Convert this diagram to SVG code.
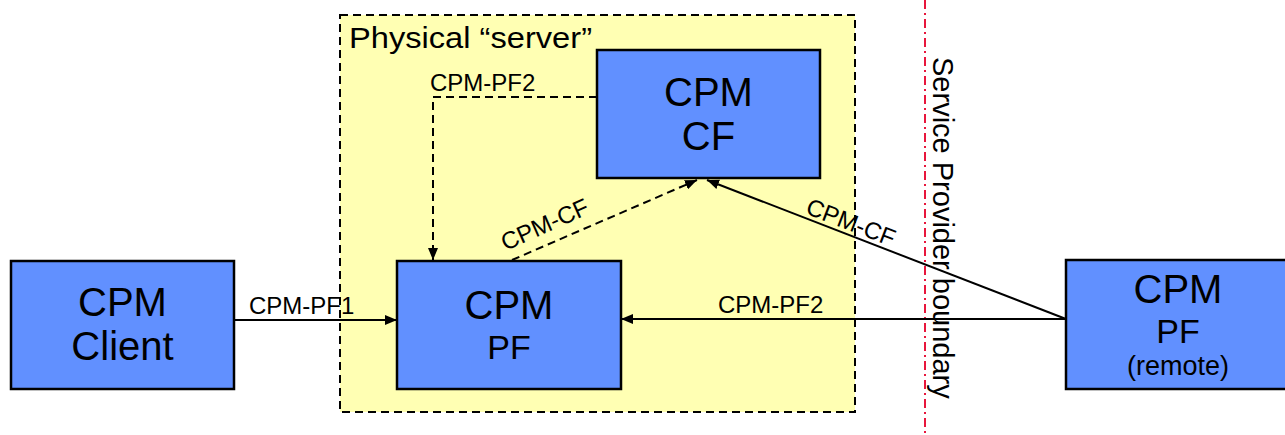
<svg xmlns="http://www.w3.org/2000/svg" width="1285" height="435" viewBox="0 0 1285 435">
<style>
text{font-family:"Liberation Sans",Arial,sans-serif;fill:#000}
.node{fill:#6190FF;stroke:#000;stroke-width:2.5}
.big{font-size:40px;text-anchor:middle}
.mid{font-size:34px;text-anchor:middle}
.lbl{font-size:24px}
.conn{fill:none;stroke:#000;stroke-width:2}
.dash{stroke-dasharray:8 5}
</style>
<defs>
<marker id="arr" viewBox="0 0 12 10" refX="12" refY="5" markerWidth="12" markerHeight="10" markerUnits="userSpaceOnUse" orient="auto">
<path d="M0,0 L12,5 L0,10 z" fill="#000" stroke="none"/>
</marker>
</defs>
<rect width="1285" height="435" fill="#fff"/>
<g id="server">
<rect x="340" y="15" width="515" height="397" fill="#FFFFB3" stroke="#000" stroke-width="2" stroke-dasharray="8 5"/>
<text x="349" y="48" style="font-size:30px" textLength="243" lengthAdjust="spacingAndGlyphs">Physical “server”</text>
</g>
<g id="boundary">
<line x1="925" y1="0" x2="925" y2="435" stroke="#E8163C" stroke-width="2" stroke-dasharray="9 4 2 4"/>
<text transform="translate(933,57) rotate(90)" style="font-size:29px">Service Provider boundary</text>
</g>
<g id="client">
<rect class="node" x="11" y="261" width="223" height="128"/>
<text class="big" x="122.5" y="316">CPM</text>
<text class="big" x="122.5" y="360">Client</text>
</g>
<g id="pf">
<rect class="node" x="397" y="261" width="224" height="128"/>
<text class="big" x="509" y="319">CPM</text>
<text class="mid" x="509" y="359">PF</text>
</g>
<g id="cf">
<rect class="node" x="597" y="50" width="223" height="128"/>
<text class="big" x="708.5" y="106">CPM</text>
<text class="big" x="708.5" y="150">CF</text>
</g>
<g id="remote">
<rect class="node" x="1066" y="260" width="226" height="129"/>
<text class="big" x="1178" y="303">CPM</text>
<text class="mid" x="1178" y="343">PF</text>
<text x="1178" y="375" style="font-size:27px;text-anchor:middle">(remote)</text>
</g>
<g id="connectors">
<line class="conn" x1="234" y1="320" x2="397" y2="320" marker-end="url(#arr)"/>
<text class="lbl" x="249" y="314">CPM-PF1</text>
<line class="conn" x1="1066" y1="319" x2="621" y2="319" marker-end="url(#arr)"/>
<text class="lbl" x="718" y="313">CPM-PF2</text>
<polyline class="conn dash" points="597,97 433,97 433,260" marker-end="url(#arr)"/>
<text class="lbl" x="430" y="91">CPM-PF2</text>
<line class="conn dash" x1="512" y1="260" x2="697" y2="180" marker-end="url(#arr)"/>
<text class="lbl" transform="translate(548,232) rotate(-24)" text-anchor="middle">CPM-CF</text>
<line class="conn" x1="1066" y1="319" x2="707" y2="180" marker-end="url(#arr)"/>
<text class="lbl" transform="translate(848,230) rotate(21)" text-anchor="middle">CPM-CF</text>
</g>
</svg>
